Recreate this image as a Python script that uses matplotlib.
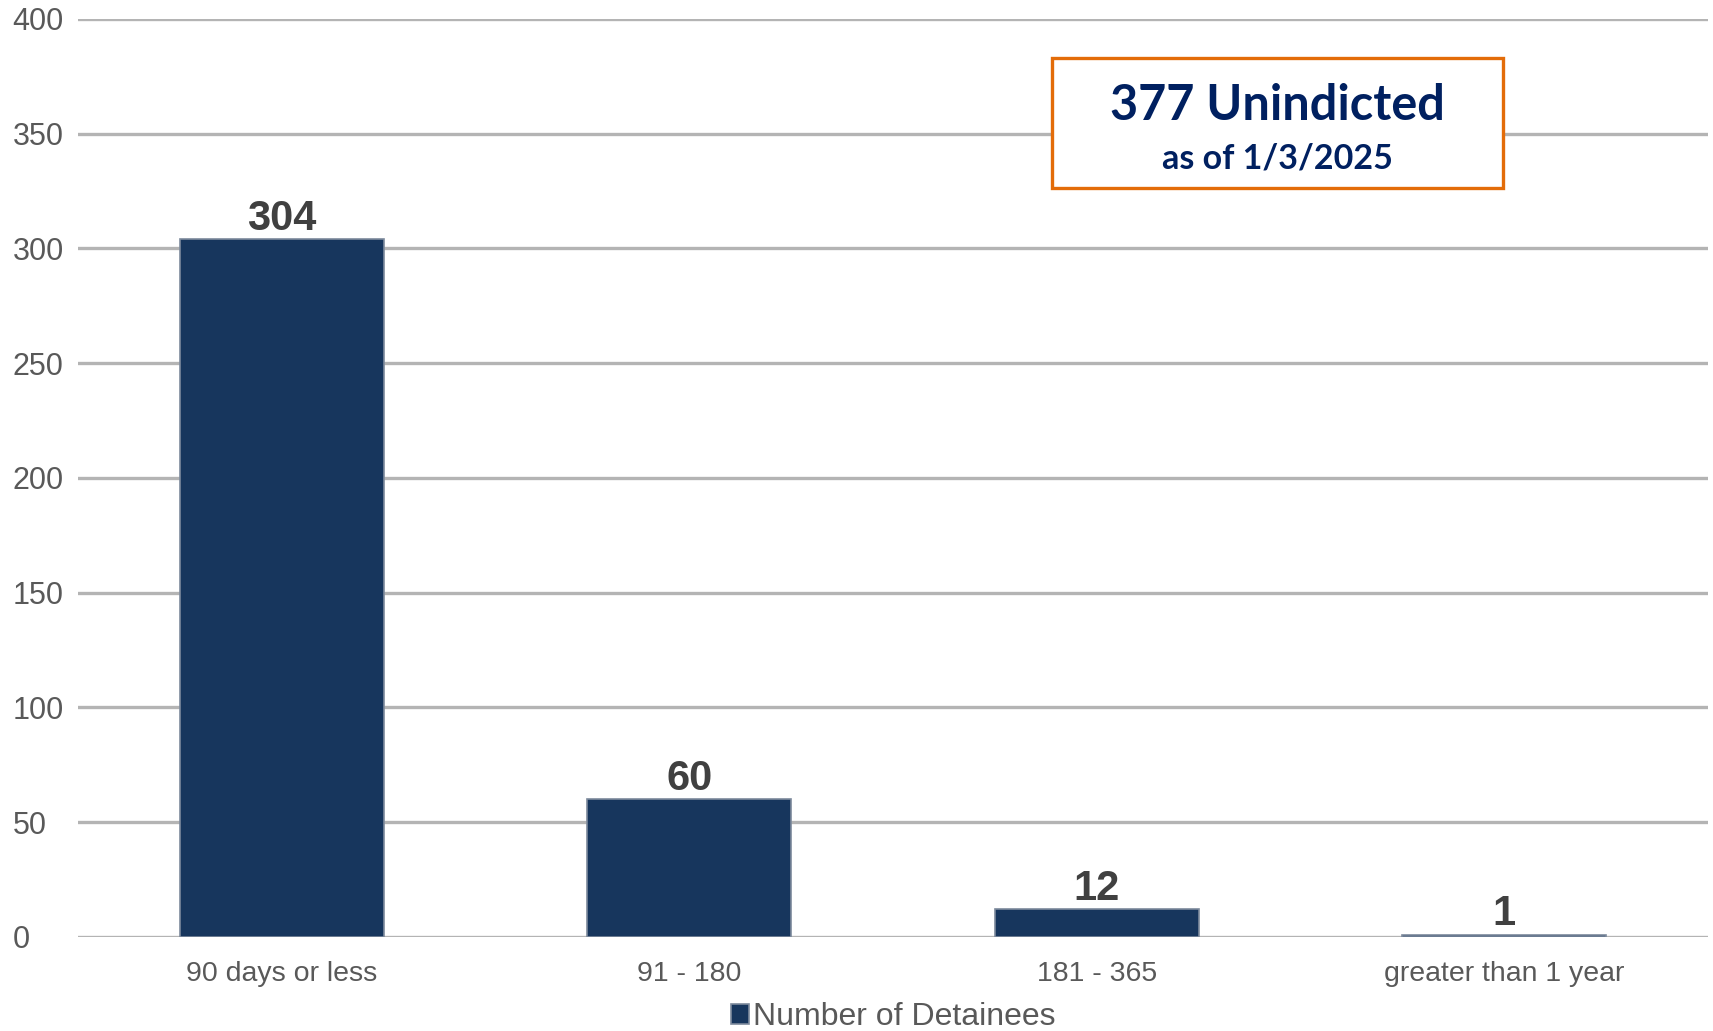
import matplotlib
matplotlib.use("Agg")
import matplotlib.pyplot as plt
from matplotlib.patches import Rectangle

categories = ["90 days or less", "91 - 180", "181 - 365", "greater than 1 year"]
detainees = [304, 60, 12, 1]
y_ticks = [0, 50, 100, 150, 200, 250, 300, 350, 400]
series_name = "Number of Detainees"
box_title = "377 Unindicted"
box_sub = "as of 1/3/2025"

BAR = "#17365D"
GRID = "#B4B4B4"

plt.rcParams["font.family"] = ["Liberation Sans", "DejaVu Sans"]

fig = plt.figure(figsize=(17.13, 10.31), dpi=100)
ax = fig.add_axes([0.0455, 0.0912, 0.9515, 0.8904])

x = range(len(categories))
bars = ax.bar(x, detainees, width=0.5, color=BAR, edgecolor="#7D8A9C",
              linewidth=1.2, zorder=3, label=series_name)

for xi, v in zip(x, detainees):
    ax.annotate(str(v), (xi, v), xytext=(0, 7), textcoords="offset points",
                ha="center", va="baseline", fontsize=30, fontweight="bold",
                color="#404040", zorder=4)

ax.set_xlim(-0.5, len(categories) - 0.5)
ax.set_ylim(0, 400)
ax.set_yticks(y_ticks)
ax.set_xticks(list(x))
ax.set_xticklabels(categories)
ax.yaxis.grid(True, color=GRID, linewidth=2.4, zorder=0)
ax.set_axisbelow(True)
for s in ax.spines.values():
    s.set_visible(False)
# y labels are left aligned in the original
ax.tick_params(axis="y", length=0, pad=47, labelsize=22, labelcolor="#595959")
for lab in ax.get_yticklabels():
    lab.set_horizontalalignment("left")
ax.tick_params(axis="x", length=0, pad=17, labelsize=20.5, labelcolor="#595959")

leg = fig.legend(handles=[bars], labels=[series_name], loc="center",
                 bbox_to_anchor=(0.5215, 0.0136), frameon=False, fontsize=23,
                 handlelength=0.58, handleheight=0.58, handletextpad=0.12,
                 borderpad=0, labelcolor="#595959")

# annotation box
fig.patches.append(Rectangle((0.614, 0.8177), 0.2633, 0.126,
                             transform=fig.transFigure, facecolor="white",
                             edgecolor="#E36C09", linewidth=2.4, zorder=5))
fig.text(0.7457, 0.8836, box_title, ha="center", va="baseline", fontsize=35,
         fontweight="bold", color="#002060", family=["Lato", "DejaVu Sans"], zorder=6)
fig.text(0.7457, 0.837, box_sub, ha="center", va="baseline", fontsize=24.5,
         fontweight="bold", color="#002060", family=["Lato", "DejaVu Sans"], zorder=6)

fig.savefig("out.png", dpi=100)
